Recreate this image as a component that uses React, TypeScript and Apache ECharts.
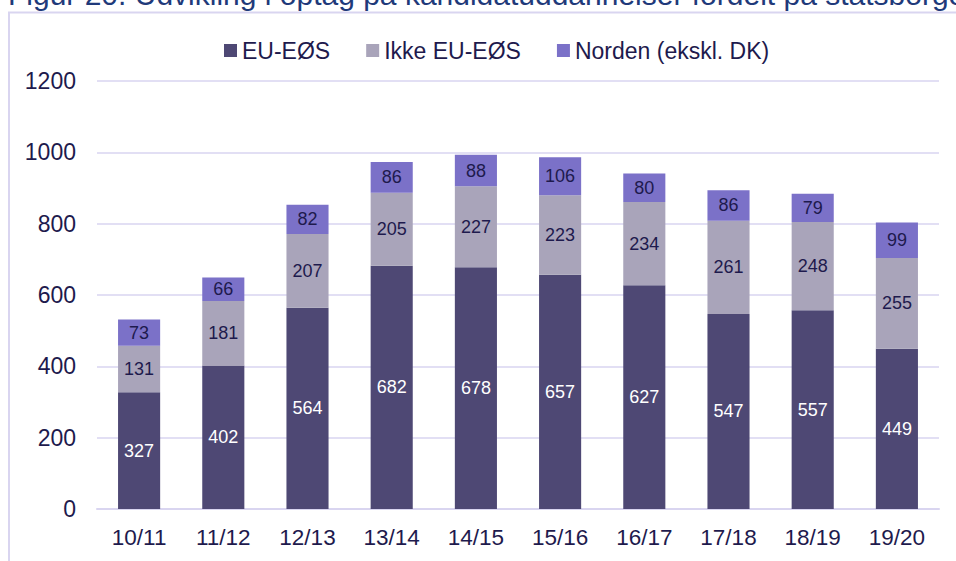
import React, { useEffect, useRef } from "react";
import * as echarts from "echarts";

const categories = ["10/11", "11/12", "12/13", "13/14", "14/15", "15/16", "16/17", "17/18", "18/19", "19/20"];
const euEos = [327, 402, 564, 682, 678, 657, 627, 547, 557, 449];
const ikkeEuEos = [131, 181, 207, 205, 227, 223, 234, 261, 248, 255];
const norden = [73, 66, 82, 86, 88, 106, 80, 86, 79, 99];
const seriesNames = ["EU-EØS", "Ikke EU-EØS", "Norden (ekskl. DK)"];
const titleText = "Figur 20. Udvikling i optag på kandidatuddannelser fordelt på statsborgerskab";

const FONT = "'Liberation Sans', Arial, sans-serif";
const TEXT = "#1E1A4D";
const GRID = "#D9D5F0";

export default function App() {
  const ref = useRef<HTMLDivElement>(null);
  useEffect(() => {
    if (!ref.current) return;
    const chart = echarts.init(ref.current, null, { renderer: "svg" });
    const label = (color: string) => ({
      show: true,
      position: "inside",
      color,
      fontSize: 18,
      fontFamily: FONT,
    });
    chart.setOption({
      animation: false,
      textStyle: { fontFamily: FONT },
      graphic: [
        {
          type: "rect",
          shape: { x: 9, y: 12.5, width: 1000, height: 600 },
          style: { fill: "none", stroke: GRID, lineWidth: 2 },
          silent: true,
        },
        {
          type: "text",
          x: 8,
          y: -6,
          style: {
            text: titleText,
            fontSize: 30,
            fontFamily: FONT,
            fill: "#1F3A7A",
            verticalAlign: "middle",
          },
        },
      ],
      legend: {
        top: 34,
        left: 219,
        itemWidth: 13,
        itemHeight: 13,
        itemGap: 36,
        icon: "rect",
        textStyle: { fontSize: 23, color: TEXT, fontFamily: FONT },
        data: seriesNames,
      },
      grid: { left: 97, right: 17, top: 81, bottom: 52, containLabel: false },
      xAxis: {
        type: "category",
        data: categories,
        axisLine: { lineStyle: { color: GRID, width: 2 } },
        axisTick: { show: false },
        axisLabel: { color: TEXT, fontSize: 22.5, margin: 17, fontFamily: FONT },
      },
      yAxis: {
        type: "value",
        min: 0,
        max: 1200,
        interval: 200,
        axisLine: { show: false },
        axisTick: { show: false },
        splitLine: { lineStyle: { color: GRID, width: 1.5 } },
        axisLabel: {
          color: TEXT,
          fontSize: 23,
          margin: 21,
          fontFamily: FONT,
          formatter: (v: number) => String(v),
        },
      },
      series: [
        {
          name: seriesNames[0],
          type: "bar",
          stack: "total",
          barWidth: "50%",
          data: euEos,
          itemStyle: { color: "#4E4874" },
          label: label("#FFFFFF"),
        },
        {
          name: seriesNames[1],
          type: "bar",
          stack: "total",
          data: ikkeEuEos,
          itemStyle: { color: "#A9A4BA" },
          label: label(TEXT),
        },
        {
          name: seriesNames[2],
          type: "bar",
          stack: "total",
          data: norden,
          itemStyle: { color: "#7B71C8" },
          label: label(TEXT),
        },
      ],
    });
    return () => chart.dispose();
  }, []);
  return <div ref={ref} style={{ width: 956, height: 561, position: "absolute", left: 0, top: 0 }} />;
}
